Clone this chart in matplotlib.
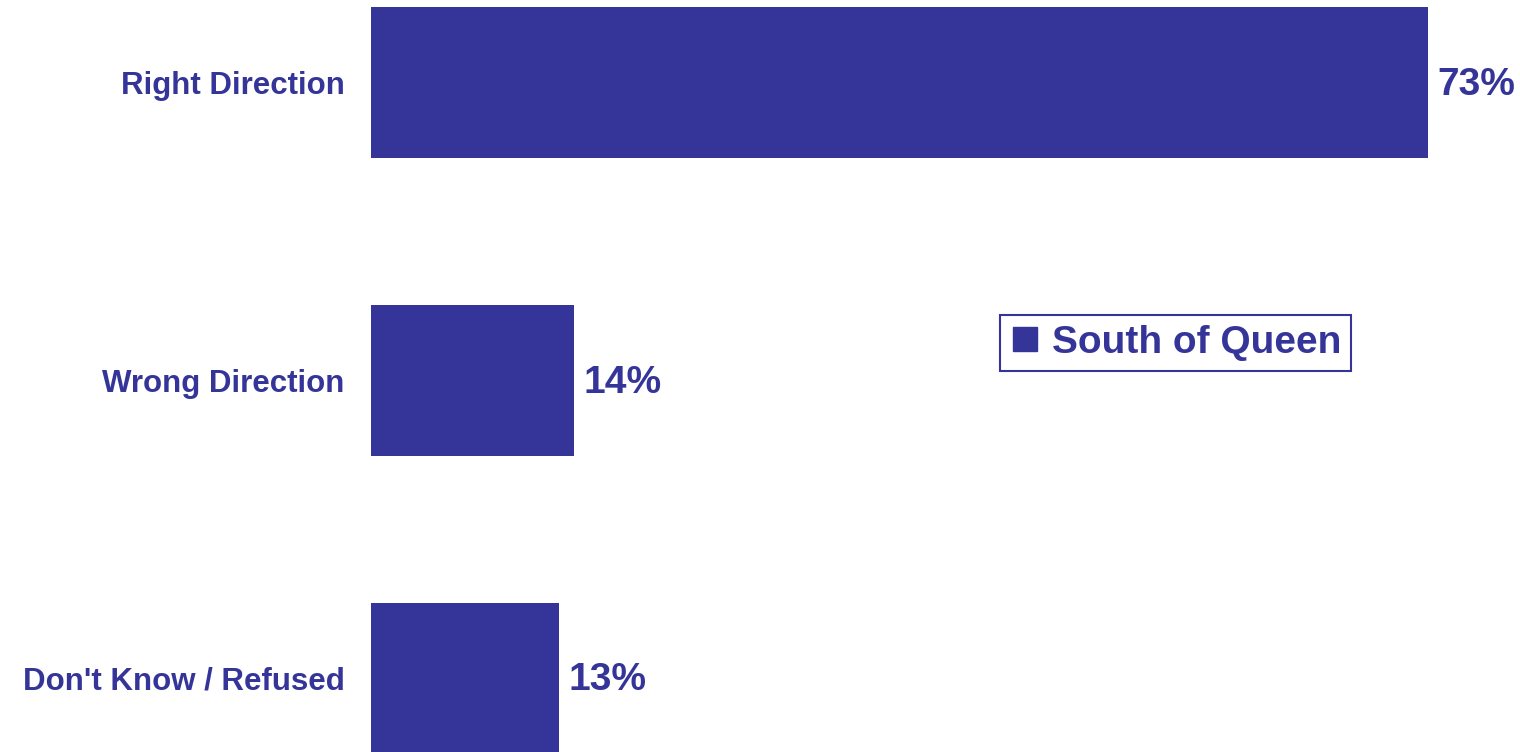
import matplotlib.pyplot as plt
from matplotlib.lines import Line2D

categories = ["Right Direction", "Wrong Direction", "Don't Know / Refused"]
values = [73, 14, 13]
series_name = "South of Queen"

color = '#353599'
plt.rcParams['font.family'] = ['Liberation Sans', 'DejaVu Sans']
plt.rcParams['font.weight'] = 'bold'

fig = plt.figure(figsize=(15.2, 7.52), dpi=100)
ax = fig.add_axes([371 / 1520, 0, 1149 / 1520, 1])

pos = list(range(len(categories)))
ax.barh(pos, values, height=0.507, color=color)
ax.set_xlim(0, 1149 / 14.48)
ax.set_ylim(2.247, -0.277)

for p, v in zip(pos, values):
    ax.annotate(f"{v}%", (v, p), xytext=(7, -1.5), textcoords='offset points',
                va='center', ha='left', fontsize=28, fontweight='bold', color=color)

ax.set_yticks(pos)
ax.set_yticklabels(categories, fontsize=22.5, fontweight='bold', color=color)
ax.tick_params(axis='y', length=0, pad=19)
for lbl in ax.get_yticklabels():
    lbl.set_y(lbl.get_position()[1])
ax.set_xticks([])
for s in ax.spines.values():
    s.set_visible(False)

handle = Line2D([], [], marker='s', linestyle='none', markersize=17,
                markerfacecolor=color, markeredgecolor=color)
leg = fig.legend([handle], [series_name], loc='center',
                 bbox_to_anchor=(1175.5 / 1520, 1 - 343 / 752),
                 fancybox=False, frameon=True, framealpha=1, fontsize=28,
                 handlelength=0.8, handletextpad=0.3, borderpad=0.25,
                 borderaxespad=0)
leg.get_frame().set_edgecolor(color)
leg.get_frame().set_linewidth(1.5)
for t in leg.get_texts():
    t.set_color(color)
    t.set_fontweight('bold')

fig.savefig('out.png', dpi=100)
